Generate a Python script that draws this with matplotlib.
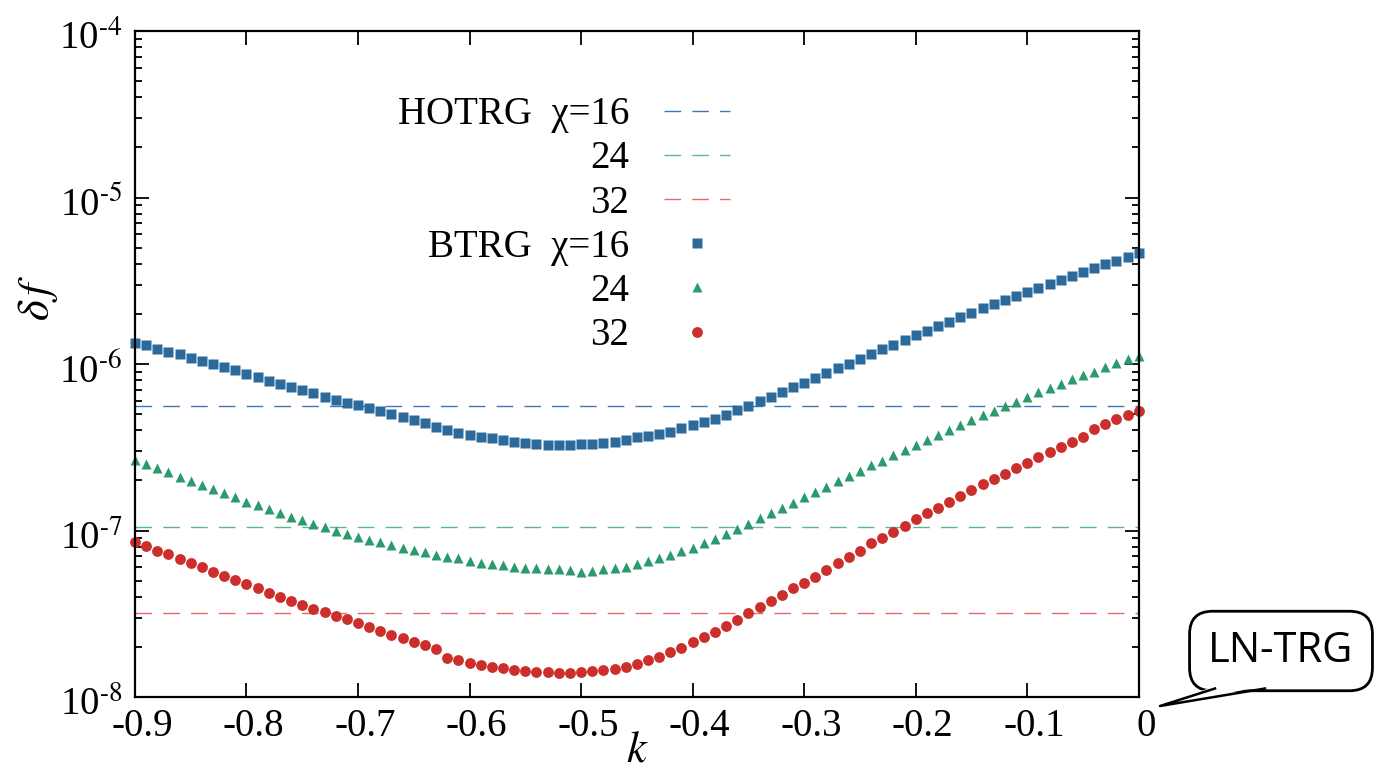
import numpy as np
import matplotlib.pyplot as plt
from matplotlib.patches import Polygon
from matplotlib.lines import Line2D
from matplotlib.transforms import ScaledTranslation
from matplotlib.ticker import LogLocator, NullFormatter, FuncFormatter, MultipleLocator

plt.rcParams['font.family'] = ['Liberation Serif', 'DejaVu Serif']
plt.rcParams['mathtext.fontset'] = 'stix'

# k grid, step 0.01
k = np.round(np.arange(-0.90, 0.0001, 0.01), 2)

# log10(delta f), k = -0.90 ... 0.00
log_btrg16 = [
    -5.872, -5.888, -5.908, -5.926, -5.942, -5.962, -5.980, -5.998, -6.018, -6.038,
    -6.058, -6.080, -6.100, -6.118, -6.138, -6.158, -6.176, -6.196, -6.214, -6.232,
    -6.248, -6.266, -6.282, -6.302, -6.317, -6.336, -6.356, -6.377, -6.395, -6.413,
    -6.426, -6.437, -6.446, -6.458, -6.468, -6.476, -6.482, -6.485, -6.486, -6.486,
    -6.482, -6.479, -6.476, -6.470, -6.456, -6.440, -6.432, -6.420, -6.407, -6.386,
    -6.368, -6.350, -6.330, -6.306, -6.276, -6.250, -6.222, -6.196, -6.170, -6.140,
    -6.112, -6.084, -6.056, -6.026, -5.998, -5.970, -5.940, -5.912, -5.884, -5.856,
    -5.828, -5.800, -5.772, -5.746, -5.720, -5.692, -5.665, -5.641, -5.616, -5.592,
    -5.566, -5.542, -5.518, -5.494, -5.470, -5.447, -5.423, -5.401, -5.380, -5.356,
    -5.335]
log_btrg24 = [
    -6.577, -6.601, -6.623, -6.647, -6.677, -6.703, -6.727, -6.753, -6.777, -6.801,
    -6.827, -6.849, -6.873, -6.897, -6.917, -6.937, -6.961, -6.981, -7.001, -7.021,
    -7.037, -7.057, -7.069, -7.087, -7.103, -7.117, -7.131, -7.147, -7.157, -7.167,
    -7.181, -7.193, -7.203, -7.209, -7.217, -7.223, -7.227, -7.231, -7.233, -7.237,
    -7.249, -7.241, -7.233, -7.227, -7.217, -7.203, -7.181, -7.165, -7.149, -7.123,
    -7.103, -7.077, -7.049, -7.019, -6.989, -6.961, -6.923, -6.893, -6.863, -6.833,
    -6.801, -6.767, -6.737, -6.703, -6.671, -6.641, -6.608, -6.581, -6.547, -6.517,
    -6.485, -6.456, -6.425, -6.396, -6.366, -6.336, -6.306, -6.280, -6.250, -6.226,
    -6.196, -6.170, -6.144, -6.120, -6.092, -6.068, -6.046, -6.020, -5.996, -5.972,
    -5.952]
log_btrg32 = [
    -7.067, -7.093, -7.121, -7.143, -7.173, -7.197, -7.221, -7.247, -7.273, -7.297,
    -7.321, -7.347, -7.374, -7.398, -7.422, -7.447, -7.470, -7.491, -7.514, -7.533,
    -7.557, -7.581, -7.602, -7.628, -7.647, -7.668, -7.688, -7.714, -7.764, -7.778,
    -7.794, -7.808, -7.818, -7.828, -7.838, -7.844, -7.848, -7.852, -7.854, -7.854,
    -7.852, -7.846, -7.838, -7.830, -7.818, -7.802, -7.778, -7.758, -7.731, -7.704,
    -7.671, -7.641, -7.608, -7.574, -7.538, -7.497, -7.461, -7.422, -7.387, -7.347,
    -7.314, -7.278, -7.237, -7.197, -7.161, -7.121, -7.077, -7.044, -7.007, -6.971,
    -6.933, -6.897, -6.863, -6.827, -6.793, -6.757, -6.723, -6.693, -6.661, -6.626,
    -6.593, -6.560, -6.527, -6.500, -6.467, -6.440, -6.392, -6.360, -6.332, -6.306,
    -6.280]

# HOTRG values (flat in k)
hotrg = [5.6e-7, 1.05e-7, 3.2e-8]

mark_colors = ['#2d6a9c', '#2b9a6c', '#cc2f2b']
dash_colors = ['#3b78b8', '#5cb88c', '#e46a6a']
markers = ['s', '^', 'o']
msizes = [7.8, 7.2, 7.8]

W, H = 1377, 768
fig = plt.figure(figsize=(W / 100, H / 100), dpi=100)
ax = fig.add_axes([0.098, 0.0924, 0.729, 0.8672])

hot_handles = []
for i in range(3):
    ln = ax.axhline(hotrg[i], color=dash_colors[i], lw=1.0, dashes=(12, 8))
    hot_handles.append(ln)

btrg_handles = []
for i, lg in enumerate([log_btrg16, log_btrg24, log_btrg32]):
    p, = ax.plot(k, 10.0 ** np.array(lg), ls='none', marker=markers[i],
                 ms=msizes[i], color=mark_colors[i], mec='none', clip_on=False)
    btrg_handles.append(p)

ax.set_yscale('log')
ax.set_xlim(-0.9, 0.0)
ax.set_ylim(1e-8, 1e-4)

ax.xaxis.set_major_locator(MultipleLocator(0.1))
ax.xaxis.set_major_formatter(FuncFormatter(lambda v, p: '0' if abs(v) < 1e-9 else f'{v:.1f}'))
ax.yaxis.set_major_locator(LogLocator(base=10, numticks=10))
ax.yaxis.set_minor_locator(LogLocator(base=10, subs=np.arange(2, 10), numticks=10))
ax.yaxis.set_minor_formatter(NullFormatter())
ax.yaxis.set_major_formatter(FuncFormatter(
    lambda v, p: r'10$^{\text{-}%d}$' % abs(round(np.log10(v)))))

ax.tick_params(which='both', direction='in', top=True, right=True, labelsize=28, width=1.3)
ax.tick_params(which='major', length=10)
ax.tick_params(which='minor', length=5)
ax.tick_params(axis='x', pad=8)
ax.tick_params(axis='y', pad=9)
for s in ax.spines.values():
    s.set_linewidth(1.6)

# gnuplot-like nudges of the tick labels
for lab in ax.get_xticklabels():
    lab.set_transform(lab.get_transform() + ScaledTranslation(0.07, 0, fig.dpi_scale_trans))
for lab in ax.get_yticklabels():
    lab.set_transform(lab.get_transform() + ScaledTranslation(0, -0.04, fig.dpi_scale_trans))

ax.set_xlabel('$k$', fontsize=32)
ax.xaxis.set_label_coords(0.5, -0.05)
ax.set_ylabel(r'$\delta\, f$', fontsize=32)
ax.yaxis.set_label_coords(-0.075, 0.6)

labels = ['HOTRG  \u03c7=16', '24', '32', 'BTRG  \u03c7=16', '24', '32']
leg = ax.legend(hot_handles + btrg_handles, labels, loc='upper right',
                bbox_to_anchor=(0.593, 0.902), frameon=False, markerfirst=False,
                fontsize=28, handlelength=1.7, handletextpad=0.9, labelspacing=0.185,
                borderpad=0, borderaxespad=0, numpoints=1)

# LN-TRG speech bubble (figure pixel positions)
def fpx(x, y):
    return (x / W, 1 - y / H)

fig.text(*fpx(1281, 651), 'LN-TRG', ha='center', va='center', fontsize=30,
         family='Open Sans', zorder=5,
         bbox=dict(boxstyle='round,pad=0.45,rounding_size=0.55', fc='white',
                   ec='black', lw=2))
tail = [fpx(1215, 686), fpx(1160, 706), fpx(1265, 686)]
fig.add_artist(Polygon(tail, closed=True, fc='white', ec='none',
                       transform=fig.transFigure, zorder=6))
fig.add_artist(Line2D([tail[0][0], tail[1][0], tail[2][0]],
                      [fpx(0, 688.5)[1], tail[1][1], fpx(0, 688.5)[1]],
                      color='black', lw=1.8, transform=fig.transFigure, zorder=7))

fig.savefig('out.png', dpi=100)
